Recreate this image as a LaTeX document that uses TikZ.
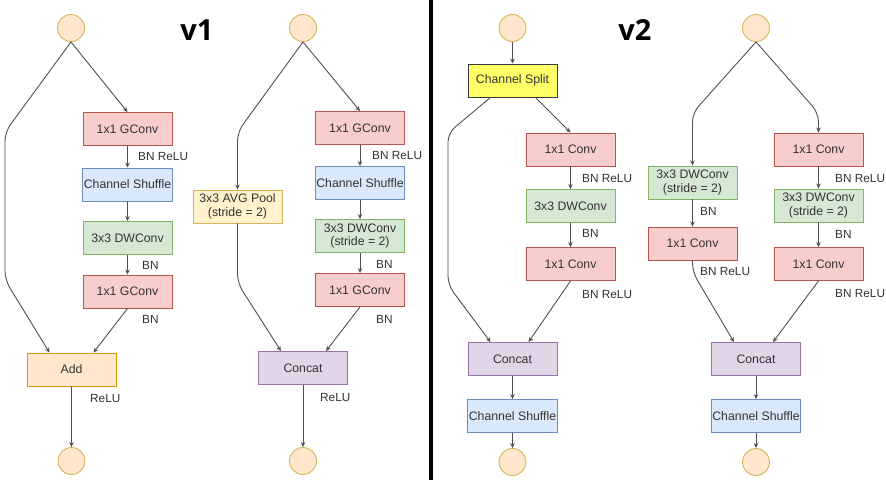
\documentclass[tikz,border=0pt]{standalone}
\usepackage{fontspec}
\setmainfont{Liberation Sans}
\newfontfamily\titlefont{Open Sans}
\usepackage{tikz}
\usetikzlibrary{arrows.meta, positioning}

\definecolor{convfill}{HTML}{F8CECC}
\definecolor{convline}{HTML}{B85450}
\definecolor{dwfill}{HTML}{D5E8D4}
\definecolor{dwline}{HTML}{82B366}
\definecolor{shuffill}{HTML}{DAE8FC}
\definecolor{shufline}{HTML}{6C8EBF}
\definecolor{addfill}{HTML}{FFE6CC}
\definecolor{addline}{HTML}{D79B00}
\definecolor{catfill}{HTML}{E1D5E7}
\definecolor{catline}{HTML}{9673A6}
\definecolor{poolfill}{HTML}{FFF2CC}
\definecolor{poolline}{HTML}{D6B656}
\definecolor{splitfill}{HTML}{FFFF66}
\definecolor{splitline}{HTML}{36393D}
\definecolor{iofill}{HTML}{FFE6CC}
\definecolor{ioline}{HTML}{D6B656}
\definecolor{wire}{HTML}{505050}
\definecolor{ink}{HTML}{333333}

\begin{document}
\begin{tikzpicture}[
    x=1pt, y=-1pt,
    font=\fontsize{12.3}{13.5}\selectfont, text=ink,
    blk/.style={draw, minimum width=89pt, minimum height=33pt, align=center, inner sep=1pt, line width=0.9pt},
    conv/.style={blk, fill=convfill, draw=convline},
    dw/.style={blk, fill=dwfill, draw=dwline},
    shuf/.style={blk, fill=shuffill, draw=shufline},
    add/.style={blk, fill=addfill, draw=addline},
    cat/.style={blk, fill=catfill, draw=catline},
    pool/.style={blk, fill=poolfill, draw=poolline},
    split/.style={blk, fill=splitfill, draw=splitline},
    io/.style={circle, draw=ioline, fill=iofill, minimum size=27pt, inner sep=0pt, line width=0.9pt},
    lbl/.style={anchor=west, inner sep=0pt, font=\fontsize{11.8}{13}\selectfont},
    ttl/.style={font=\titlefont\bfseries\fontsize{29}{30}\selectfont, text=black},
    ar/.style={-{Stealth[length=5pt, width=4.5pt]}, draw=wire, line width=0.9pt},
    skip/.style={ar, rounded corners=9pt}
]
\useasboundingbox (0,0) rectangle (886,480);
\fill[white] (0,0) rectangle (886,480);

% divider
\draw[line width=4pt] (430.5,0) -- (430.5,480);
\node[ttl] (t1) at (197,30) {v1};
\node[ttl] (t2) at (635,30) {v2};

% v1, basic unit
\node[io] (a_in) at (71,28) {};
\node[conv] (a_g1) at (127.5,129) {1x1 GConv};
\node[shuf] (a_sh) at (127.5,184.5) {Channel Shuffle};
\node[dw] (a_dw) at (127.5,238) {3x3 DWConv};
\node[conv] (a_g2) at (127.5,291.5) {1x1 GConv};
\node[add] (a_add) at (71.5,369.5) {Add};
\node[io] (a_out) at (71.5,461) {};
\draw[ar] (a_in.south) -- (a_g1.north);
\draw[ar] (a_g1) -- (a_sh);
\draw[ar] (a_sh) -- (a_dw);
\draw[ar] (a_dw) -- (a_g2);
\draw[ar] (a_g2.south) -- ([xshift=22pt]a_add.north);
\draw[skip] (a_in.south) -- (5,132) -- (5,280) -- ([xshift=-22pt]a_add.north);
\draw[ar] (a_add) -- (a_out);
\node[lbl] (a_l1) at (138,156) {BN ReLU};
\node[lbl] (a_l2) at (142,265) {BN};
\node[lbl] (a_l3) at (142,319) {BN};
\node[lbl] (a_l4) at (90,398) {ReLU};

% v1, stride 2 unit
\node[io] (b_in) at (303,28) {};
\node[conv] (b_g1) at (360,128) {1x1 GConv};
\node[shuf] (b_sh) at (360,183) {Channel Shuffle};
\node[dw] (b_dw) at (360,236) {3x3 DWConv\\(stride = 2)};
\node[conv] (b_g2) at (360,290) {1x1 GConv};
\node[pool] (b_pool) at (237.5,206.5) {3x3 AVG Pool\\(stride = 2)};
\node[cat] (b_cat) at (303,368) {Concat};
\node[io] (b_out) at (303,461) {};
\draw[ar] (b_in.south) -- (b_g1.north);
\draw[ar] (b_g1) -- (b_sh);
\draw[ar] (b_sh) -- (b_dw);
\draw[ar] (b_dw) -- (b_g2);
\draw[ar] (b_g2.south) -- ([xshift=23pt]b_cat.north);
\draw[skip] (b_in.south) -- (237.5,132) -- (b_pool.north);
\draw[skip] (b_pool.south) -- (237.5,283) -- ([xshift=-22pt]b_cat.north);
\draw[ar] (b_cat) -- (b_out);
\node[lbl] (b_l1) at (372,155) {BN ReLU};
\node[lbl] (b_l2) at (376,264) {BN};
\node[lbl] (b_l3) at (376,319) {BN};
\node[lbl] (b_l4) at (320,397) {ReLU};

% v2, basic unit
\node[io] (c_in) at (512.5,28) {};
\node[split] (c_split) at (512.5,80.5) {Channel Split};
\node[conv] (c_c1) at (570.5,149.5) {1x1 Conv};
\node[dw] (c_dw) at (570.5,206) {3x3 DWConv};
\node[conv] (c_c2) at (570.5,264) {1x1 Conv};
\node[cat] (c_cat) at (512.5,359) {Concat};
\node[shuf] (c_sh) at (512.5,416) {Channel Shuffle};
\node[io] (c_out) at (512.5,462) {};
\draw[ar] (c_in) -- (c_split);
\draw[ar] ([xshift=23pt]c_split.south) -- (c_c1.north);
\draw[skip] ([xshift=-22pt]c_split.south) -- (448,133) -- (448,285) -- ([xshift=-22pt]c_cat.north);
\draw[ar] (c_c1) -- (c_dw);
\draw[ar] (c_dw) -- (c_c2);
\draw[ar] (c_c2.south) -- ([xshift=16pt]c_cat.north);
\draw[ar] (c_cat) -- (c_sh);
\draw[ar] (c_sh) -- (c_out);
\node[lbl] (c_l1) at (582,178) {BN ReLU};
\node[lbl] (c_l2) at (582,233) {BN};
\node[lbl] (c_l3) at (582,294) {BN ReLU};

% v2, stride 2 unit
\node[io] (d_in) at (756,28) {};
\node[dw] (d_dw1) at (692.5,182.5) {3x3 DWConv\\(stride = 2)};
\node[conv] (d_c0) at (692.5,243.5) {1x1 Conv};
\node[conv] (d_c1) at (818.5,149.5) {1x1 Conv};
\node[dw] (d_dw2) at (818.5,205.5) {3x3 DWConv\\(stride = 2)};
\node[conv] (d_c2) at (818.5,264) {1x1 Conv};
\node[cat] (d_cat) at (756,359) {Concat};
\node[shuf] (d_sh) at (756,416) {Channel Shuffle};
\node[io] (d_out) at (756,462) {};
\draw[skip] (d_in.south) -- (692.5,113) -- (d_dw1.north);
\draw[skip] (d_in.south) -- (818.5,113) -- (d_c1.north);
\draw[ar] (d_dw1) -- (d_c0);
\draw[skip] (d_c0.south) -- (692.5,272) -- ([xshift=-22pt]d_cat.north);
\draw[ar] (d_c1) -- (d_dw2);
\draw[ar] (d_dw2) -- (d_c2);
\draw[ar] (d_c2.south) -- ([xshift=17pt]d_cat.north);
\draw[ar] (d_cat) -- (d_sh);
\draw[ar] (d_sh) -- (d_out);
\node[lbl] (d_l1) at (700,211) {BN};
\node[lbl] (d_l2) at (700,271) {BN ReLU};
\node[lbl] (d_l3) at (835,178) {BN ReLU};
\node[lbl] (d_l4) at (835,234) {BN};
\node[lbl] (d_l5) at (835,293) {BN ReLU};
\end{tikzpicture}
\end{document}
